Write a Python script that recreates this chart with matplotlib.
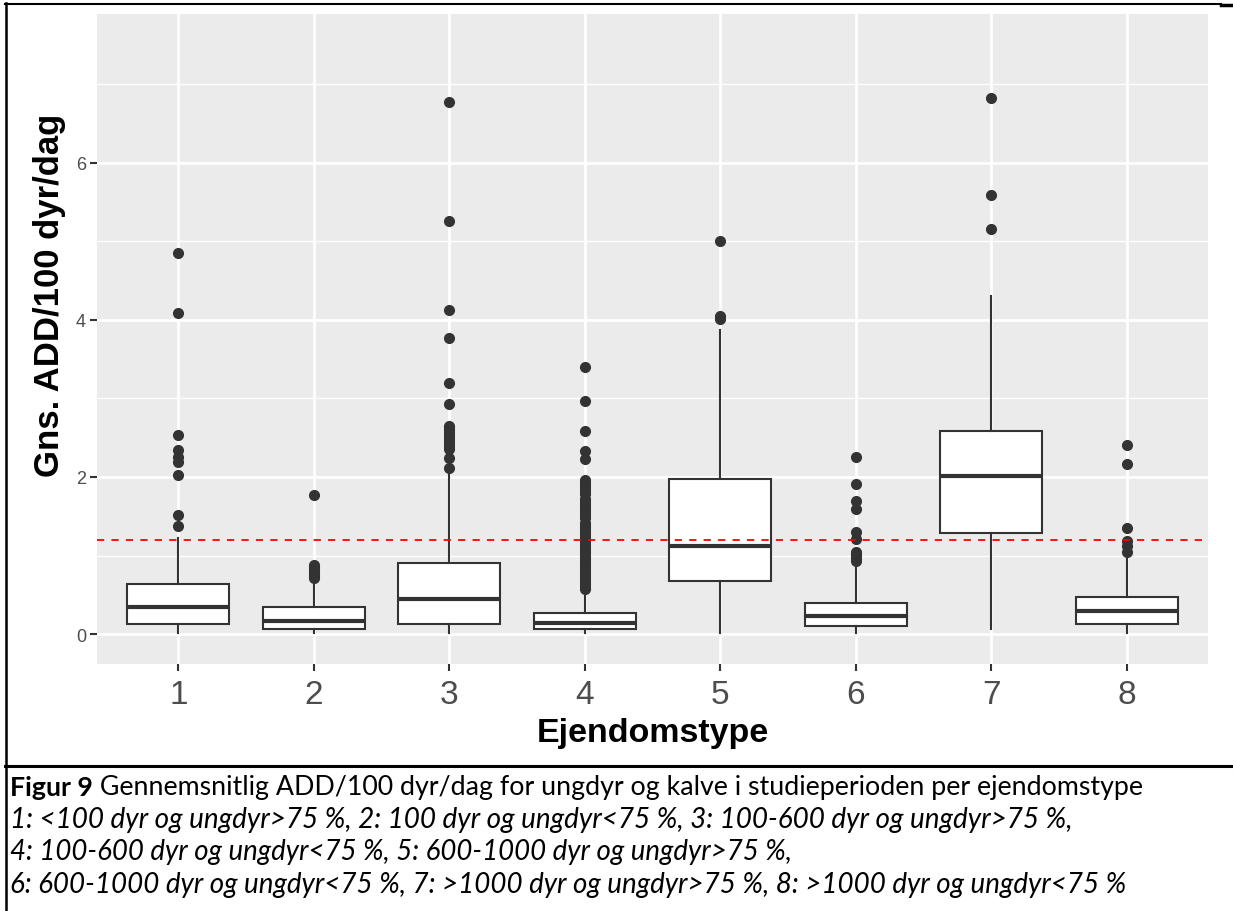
import matplotlib
matplotlib.use("Agg")
import matplotlib.pyplot as plt
from matplotlib.lines import Line2D

# ---------------- data ----------------
categories = ["1", "2", "3", "4", "5", "6", "7", "8"]
q1 = [0.13, 0.065, 0.13, 0.065, 0.68, 0.105, 1.29, 0.13]
medians = [0.35, 0.17, 0.445, 0.14, 1.125, 0.235, 2.01, 0.29]
q3 = [0.64, 0.34, 0.90, 0.27, 1.97, 0.40, 2.59, 0.475]
whisk_lo = [0.01, 0.01, 0.01, 0.01, 0.01, 0.01, 0.06, 0.01]
whisk_hi = [1.22, 0.70, 2.04, 0.55, 3.87, 0.88, 4.30, 0.955]
outliers = [
    [1.38, 1.51, 2.02, 2.19, 2.25, 2.34, 2.53, 4.09, 4.85],
    [0.72, 0.74, 0.76, 0.78, 0.80, 0.82, 0.84, 0.86, 0.88, 1.77],
    [2.12, 2.24, 2.36, 2.39, 2.42, 2.45, 2.48, 2.51, 2.54, 2.57, 2.60, 2.63,
     2.65, 2.93, 3.20, 3.77, 4.13, 5.25, 6.77],
    [0.58, 0.61, 0.64, 0.67, 0.70, 0.73, 0.76, 0.79, 0.82, 0.85, 0.88, 0.91,
     0.94, 0.97, 1.00, 1.03, 1.06, 1.09, 1.12, 1.15, 1.18, 1.21, 1.24, 1.27,
     1.30, 1.33, 1.36, 1.39, 1.42, 1.48, 1.51, 1.54, 1.57, 1.60, 1.63, 1.66,
     1.69, 1.72, 1.78, 1.81, 1.84, 1.87, 1.90, 1.93, 1.96, 2.23, 2.33, 2.59,
     2.97, 3.40],
    [4.01, 4.05, 5.00],
    [0.93, 0.96, 0.99, 1.02, 1.05, 1.21, 1.30, 1.59, 1.70, 1.91, 2.25],
    [5.16, 5.59, 6.82],
    [1.04, 1.12, 1.18, 1.35, 2.16, 2.41],
]
threshold = 1.2
y_ticks = [0, 2, 4, 6]
y_minor = [1, 3, 5, 7]
x_title = "Ejendomstype"
y_title = "Gns. ADD/100 dyr/dag"
caption_bold = "Figur 9"
caption_rest = " Gennemsnitlig ADD/100 dyr/dag for ungdyr og kalve i studieperioden per ejendomstype"
caption_lines = [
    "1: <100 dyr og ungdyr>75 %, 2: 100 dyr og ungdyr<75 %, 3: 100-600 dyr og ungdyr>75 %,",
    "4: 100-600 dyr og ungdyr<75 %, 5: 600-1000 dyr og ungdyr>75 %,",
    "6: 600-1000 dyr og ungdyr<75 %, 7: >1000 dyr og ungdyr>75 %, 8: >1000 dyr og ungdyr<75 %",
]

# ---------------- figure ----------------
W, H = 1233, 912
fig = plt.figure(figsize=(W / 100, H / 100), dpi=100)
fig.patch.set_facecolor("white")

def fx(px):
    return px / W

def fy(py):
    return 1 - py / H

ax = fig.add_axes([fx(97), fy(665), fx(1208) - fx(97), fy(15) - fy(665)])
ax.set_facecolor("#EBEBEB")
for s in ax.spines.values():
    s.set_visible(False)

positions = list(range(1, len(categories) + 1))
stats = []
for i in range(len(categories)):
    stats.append(dict(med=medians[i], q1=q1[i], q3=q3[i],
                      whislo=whisk_lo[i], whishi=whisk_hi[i],
                      fliers=outliers[i], label=categories[i]))

dark = "#333333"
ax.bxp(stats, positions=positions, widths=0.75, patch_artist=True,
       showcaps=False,
       boxprops=dict(facecolor="white", edgecolor=dark, linewidth=1.5),
       medianprops=dict(color=dark, linewidth=3),
       whiskerprops=dict(color=dark, linewidth=1.5),
       flierprops=dict(marker="o", markerfacecolor=dark, markeredgecolor=dark,
                       markersize=7, linestyle="none"),
       zorder=3)

ax.axhline(threshold, color="#FF0000", linestyle=(0, (4, 4)), linewidth=1.3, zorder=4)

ax.set_xlim(0.4, 8.6)
ax.set_ylim(-0.38, 7.89)
ax.set_yticks(y_ticks)
ax.set_yticks(y_minor, minor=True)
ax.set_xticks(positions)
ax.set_xticklabels(categories)
ax.grid(which="major", color="white", linewidth=2.0, zorder=0)
ax.grid(which="minor", axis="y", color="white", linewidth=1.0, zorder=0)
ax.set_axisbelow(True)

ax.tick_params(axis="y", which="major", length=5, width=1.5, color=dark,
               labelsize=13, labelcolor="#4D4D4D", pad=3)
ax.tick_params(axis="y", which="minor", length=0)
ax.tick_params(axis="x", which="major", length=5, width=1.5, color=dark,
               labelsize=24, labelcolor="#4D4D4D", pad=6)
for lab in ax.get_xticklabels() + ax.get_yticklabels():
    lab.set_family("Liberation Sans")

ax.set_xlabel(x_title, fontsize=24.5, fontweight="bold", family="Liberation Sans",
              color="black")
ax.set_ylabel(y_title, fontsize=25, fontweight="bold", family="Liberation Sans",
              color="black")
ax.xaxis.set_label_coords(0.5, -(718 - 665) / 650, transform=ax.transAxes)
ax.yaxis.set_label_coords(-(97 - 66) / 1111, (665 - 295) / 650, transform=ax.transAxes)

# ---------------- frame lines ----------------
fig.add_artist(Line2D([fx(5), fx(1221)], [fy(5), fy(5)], color="black", lw=1.5,
                      transform=fig.transFigure))
fig.add_artist(Line2D([fx(1221), fx(1233)], [fy(5.5), fy(5.5)], color="black", lw=2.5,
                      transform=fig.transFigure))
fig.add_artist(Line2D([fx(5.5), fx(5.5)], [fy(4), fy(912)], color="black", lw=1.8,
                      transform=fig.transFigure))
fig.add_artist(Line2D([fx(5), fx(1233)], [fy(766.5), fy(766.5)], color="black", lw=2.2,
                      transform=fig.transFigure))

# ---------------- caption ----------------
cap_font = "Lato"
renderer = fig.canvas.get_renderer()

def fit_size(text, target, **kw):
    p = fig.text(0, 0, text, fontsize=20, family=cap_font, **kw)
    w = p.get_window_extent(renderer).width
    p.remove()
    return 20 * target / w

left_px = 10
pb = fig.text(0, 0, caption_bold, fontsize=20, fontweight="bold", family=cap_font)
pr = fig.text(0, 0, caption_rest, fontsize=20, family=cap_font)
wsum = pb.get_window_extent(renderer).width + pr.get_window_extent(renderer).width
pb.remove()
pr.remove()
s1 = 20 * (1147 - left_px) / wsum
t1 = fig.text(fx(left_px), fy(788), caption_bold, fontsize=s1, fontweight="bold",
              family=cap_font, va="center", ha="left")
bw = t1.get_window_extent(renderer).width
fig.text(fx(left_px + bw), fy(788), caption_rest, fontsize=s1,
         family=cap_font, va="center", ha="left")

line_ends = [1074, 790, 1127]
line_ys = [820, 852, 885]
for line, xe, yy in zip(caption_lines, line_ends, line_ys):
    sz = fit_size(line, xe - left_px, style="italic")
    fig.text(fx(left_px), fy(yy), line, fontsize=sz, style="italic",
             family=cap_font, va="center", ha="left")

fig.savefig("out.png", dpi=100)
